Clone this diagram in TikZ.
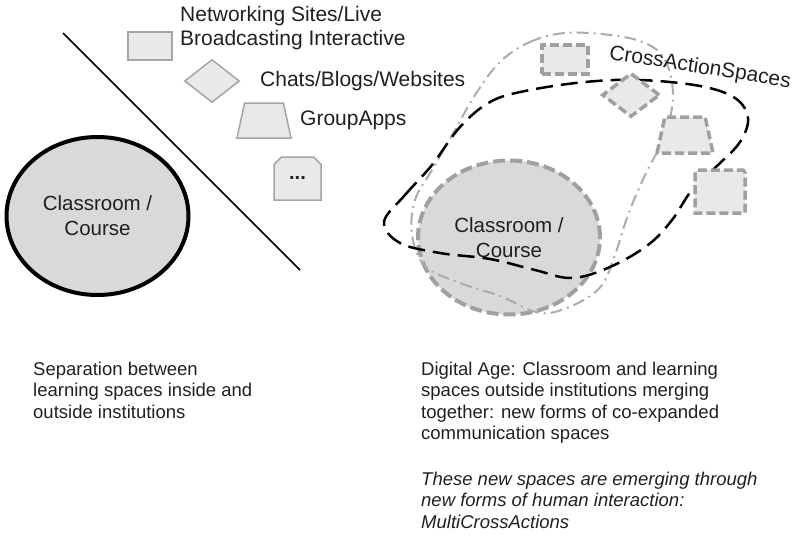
\documentclass[tikz,border=0pt]{standalone}
\usepackage{fontspec}
\setmainfont{Liberation Sans}
\usetikzlibrary{shapes.geometric,shapes.misc}
\definecolor{classfill}{RGB}{216,217,219}
\definecolor{iconfill}{RGB}{232,233,235}
\definecolor{icondraw}{RGB}{165,165,167}
\definecolor{dashgray}{RGB}{160,160,162}
\definecolor{dotgray}{RGB}{172,172,174}
\definecolor{textdark}{RGB}{35,31,32}

\begin{document}
\begin{tikzpicture}[
    x=1pt, y=-1pt,
    text=textdark,
    classroom/.style={
        ellipse,
        fill=classfill,
        inner sep=0pt,
        align=center,
        minimum width=182pt,
        font=\fontsize{20.5}{25}\selectfont
    },
    icon/.style={
        draw=icondraw,
        fill=iconfill,
        line width=1.5pt,
        inner sep=1pt
    },
    crossicon/.style={
        draw=dashgray,
        fill=iconfill,
        line width=3.5pt,
        dash pattern=on 9pt off 4pt,
        inner sep=1pt
    },
    trap/.style={
        trapezium,
        trapezium stretches=true,
        trapezium left angle=79,
        trapezium right angle=79
    },
    chamfer/.style={
        chamfered rectangle,
        chamfered rectangle corners={north west,north east},
        chamfered rectangle xsep=5pt,
        chamfered rectangle ysep=5pt
    },
    label/.style={inner sep=0pt, align=left, font=\fontsize{21}{24}\selectfont},
    note/.style={inner sep=0pt, align=left, font=\fontsize{18.5}{21.5}\selectfont},
    divider/.style={line width=1.5pt, black},
    learnloop/.style={line width=2.5pt, black, dash pattern=on 17pt off 8pt},
    crossloop/.style={line width=2pt, dotgray, dash pattern=on 12pt off 5pt on 2pt off 5pt}
]
\useasboundingbox (0,0) rectangle (795,538);

% left half: classroom kept apart from the outside spaces
\node[classroom, minimum height=158pt, draw=black, line width=4pt] (course) at (97.5,216) {Classroom /\\Course};
\draw[divider] (63,33) -- (300,270);

\node[icon, rectangle, minimum width=44pt, minimum height=28pt] (sites) at (150,46) {};
\node[icon, diamond, minimum width=55pt, minimum height=43pt] (chats) at (212,81) {};
\node[icon, trap, minimum width=54pt, minimum height=35pt] (apps) at (264,120.5) {};
\node[icon, chamfer, minimum width=47pt, minimum height=43pt, font=\bfseries\fontsize{20}{20}\selectfont] (more) at (297.5,178.5) {...};

\node[label, anchor=north west] (siteslabel) at (180,6) {Networking Sites/Live\\Broadcasting Interactive};
\node[label, anchor=base west] (chatslabel) at (260,86) {Chats/Blogs/Websites};
\node[label, anchor=base west] (appslabel) at (300,125) {GroupApps};

% right half: the spaces merging around the classroom
\node[classroom, minimum height=154pt, draw=dashgray, line width=4pt, dash pattern=on 12pt off 5pt] (merged) at (509,237.5) {Classroom /\\Course};

\draw[crossloop] plot[smooth cycle, tension=0.6] coordinates {
    (500,62) (530,42) (565,33) (610,35) (645,43) (665,60) (673,95)
    (665,135) (645,175) (628,215) (615,255) (602,285) (580,302)
    (550,313) (530,310) (500,296) (460,283) (425,266) (412,235)
    (415,200) (432,170) (455,130) (475,95)};
\draw[learnloop] plot[smooth cycle, tension=0.6] coordinates {
    (384,222) (405,195) (432,165) (460,127) (490,102) (525,91)
    (585,82) (640,80) (700,86) (735,98) (748,118) (740,142)
    (718,165) (692,190) (672,220) (648,245) (610,267) (572,278)
    (535,270) (490,259) (440,253) (400,243)};

\node[crossicon, rectangle, minimum width=46pt, minimum height=29pt] (xsites) at (565,59.5) {};
\node[crossicon, diamond, minimum width=58pt, minimum height=44pt] (xchats) at (631,95) {};
\node[crossicon, trap, minimum width=56pt, minimum height=36pt] (xapps) at (685,135) {};
\node[crossicon, chamfer, minimum width=50pt, minimum height=43pt] (xmore) at (720,191.5) {};

\node[label, rotate=-9] (spaceslabel) at (700,68) {CrossActionSpaces};

% captions
\node[note, anchor=north west] (leftnote) at (33,361.5) {Separation between\\learning spaces inside and\\outside institutions};
\node[note, anchor=north west] (rightnote) at (421,361.5) {Digital Age: Classroom and learning\\spaces outside institutions merging\\together: new forms of co-expanded\\communication spaces};
\node[note, anchor=north west, font=\itshape\fontsize{18.5}{21.5}\selectfont] (actionnote) at (421,471.5) {These new spaces are emerging through\\new forms of human interaction:\\MultiCrossActions};
\end{tikzpicture}
\end{document}
